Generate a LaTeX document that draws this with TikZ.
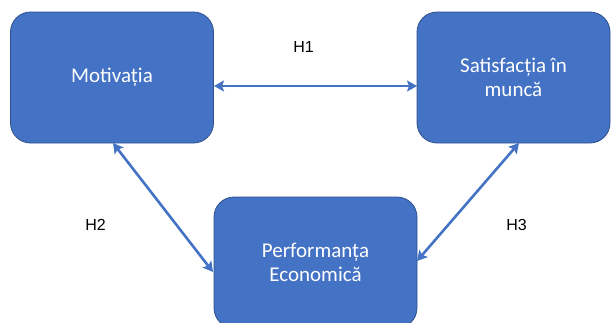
\documentclass[tikz,border=0pt]{standalone}
\usepackage{fontspec}
\setmainfont{Carlito}
\newfontfamily\labelfont{Liberation Sans}
\usetikzlibrary{arrows.meta}
\definecolor{boxblue}{HTML}{4472C4}
\definecolor{boxedge}{HTML}{2F528F}
\tikzset{
  concept/.style={draw=boxedge, line width=0.8pt, fill=boxblue, rounded corners=20pt,
    text=white, font=\fontsize{21}{24}\selectfont, align=center,
    minimum width=203pt, minimum height=131pt, inner sep=0pt},
  link/.style={boxblue, line width=2.6pt,
    {Stealth[width=11pt,length=10pt,inset=2pt]}-{Stealth[width=11pt,length=10pt,inset=2pt]}},
  hyp/.style={font=\labelfont\fontsize{16}{18}\selectfont, text=black, inner sep=0pt}
}
\begin{document}
\begin{tikzpicture}[x=1pt,y=-1pt]
  \useasboundingbox (0,0) rectangle (611,322);
  \begin{scope}
    \clip (0,0) rectangle (611,322);
    \node[concept] (mot) at (112,77.5) {Motivația};
    \node[concept, minimum width=193pt] (sat) at (513.5,77.5) {Satisfacția în\\muncă};
    \node[concept] (perf) at (315.5,262.5) {Performanța\\Economică};
  \end{scope}
  \coordinate (m1) at (214,86);
  \coordinate (s1) at (417,86);
  \coordinate (m2) at (113,143);
  \coordinate (p2) at (213,272);
  \coordinate (s3) at (519,143);
  \coordinate (p3) at (417,261);
  \draw[link] (m1) -- (s1);
  \draw[link] (m2) -- (p2);
  \draw[link] (s3) -- (p3);
  \node[hyp] (h1) at (303.5,47) {H1};
  \node[hyp] (h2) at (95.5,225) {H2};
  \node[hyp] (h3) at (516.5,225) {H3};
\end{tikzpicture}
\end{document}
